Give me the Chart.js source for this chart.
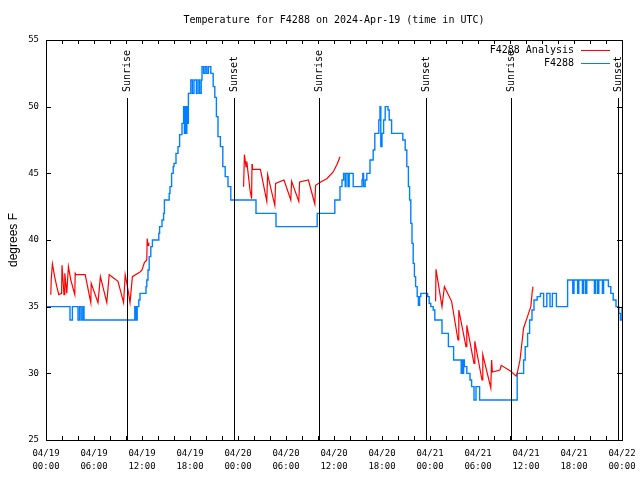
<!DOCTYPE html>
<html>
<head>
<meta charset="utf-8">
<script src="https://cdn.jsdelivr.net/npm/chart.js@4"></script>
<style>html,body{margin:0;padding:0;background:#fff;}canvas{display:block;}</style>
</head>
<body>
<canvas id="c" width="640" height="480"></canvas>
<script>
// ---- data ----
const titleText = 'Temperature for F4288 on 2024-Apr-19 (time in UTC)';
const yAxisLabel = 'degrees F';
const xTickDates = ['04/19','04/19','04/19','04/19','04/20','04/20','04/20','04/20','04/21','04/21','04/21','04/21','04/22'];
const xTickTimes = ['00:00','06:00','12:00','18:00','00:00','06:00','12:00','18:00','00:00','06:00','12:00','18:00','00:00'];
const yTicks = [25,30,35,40,45,50,55];
const sunHours = [10.1, 23.5, 34.1, 47.5, 58.1, 71.5];
const sunLabels = ['Sunrise','Sunset','Sunrise','Sunset','Sunrise','Sunset'];

// observed station series (hours since 04/19 00:00 UTC)
const obsHours = [0,3.0,3.3,4.0,4.2,4.4,4.6,4.75,11.1,11.25,11.4,11.6,11.75,12.5,12.6,12.75,12.9,13.1,13.3,14.1,14.2,14.5,14.7,14.8,15.4,15.5,15.7,15.9,16.0,16.25,16.5,16.7,17.0,17.2,17.3,17.4,17.5,17.6,17.7,17.8,18.1,18.3,18.5,18.8,19.0,19.2,19.4,19.5,19.7,19.9,20.1,20.3,20.6,20.9,21.1,21.3,21.5,21.8,22.1,22.4,22.75,23.1,26.25,28.75,33.9,36.1,36.75,37.0,37.2,37.4,37.5,37.75,37.9,38.4,39.5,39.6,39.7,39.9,40.1,40.5,40.9,41.1,41.6,41.75,41.85,42.0,42.2,42.4,42.75,42.9,43.2,44.6,44.9,45.1,45.3,45.45,45.6,45.75,45.9,46.05,46.2,46.4,46.55,46.7,46.85,47.7,47.9,48.1,48.4,48.6,49.5,50.3,50.95,51.9,52.0,52.1,52.2,52.3,52.6,53.0,53.2,53.5,53.75,54.2,58.9,59.7,59.9,60.2,60.45,60.75,61.0,61.4,61.8,62.2,62.6,63.0,63.3,63.8,65.2,65.85,66.0,66.45,66.6,67.05,67.2,67.45,67.6,68.55,68.7,68.95,69.1,69.55,69.7,70.3,70.6,70.9,71.25,71.6,71.8,72];
const obsTemps = [35,34,35,34,35,34,35,34,35,34,35,35.5,36,36.5,37,37.75,38.75,39.5,40,40.5,41,41.5,42,43,43.5,44,45,45.5,45.75,46.5,47,47.9,48.75,50,48,50,48,50,48.75,51,52,51,52,51,52,51,52,53,52.5,53,52.5,53,52.5,51.5,50.7,49.25,47.75,47,45.5,44.75,44,43,42,41,42,43,44,44.5,45,44,45,44,45,44,44.5,45,44,44.5,45,46,46.75,48,49,50,47,48,49,50,49.75,49,48,47.5,46.75,45.5,44,43,41.25,39.75,38.25,37.25,36.5,35.75,35.1,35.75,36,35.75,35.25,35,34.75,34,33,32,31,30,31,30,31,30.5,30,29.5,29,28,29,28,30,31,32,33,34,34.75,35.5,35.75,36,35,36,35,36,35,37,36,37,36,37,36,37,36,37,36,37,36,37,36,37,36.5,36,35.5,35,34.5,34,35];

// analysis series (null = gap)
const anaHours = [0.6,0.65,0.8,1.1,1.35,1.6,1.95,2.0,2.25,2.35,2.6,2.8,3.1,3.6,3.65,3.75,4.9,5.6,5.65,6.5,6.8,7.6,7.9,9.0,9.7,9.9,10.3,10.5,10.8,11.75,12.0,12.3,12.6,12.65,12.75,12.85,
  18,
  24.7,24.8,25.0,25.1,25.5,25.7,25.75,25.8,26.8,27.6,27.7,28.6,28.7,29.75,30.6,30.7,31.6,31.7,32.8,33.6,33.7,34.5,35.1,35.9,36.4,36.75,
  42,
  48.7,48.75,49.5,49.8,50.7,51.5,51.6,52.5,52.6,53.5,53.6,54.5,54.6,55.6,55.7,55.8,56.75,56.9,58.0,58.75,58.9,59.25,59.7,60.1,60.6,60.8,60.85];
const anaTemps = [35.9,37.0,38.2,37.2,36.5,35.9,36.0,38.1,35.9,37.5,36.0,38.0,37.0,35.9,37.5,37.4,37.4,35.3,36.75,35.3,37.25,35.3,37.4,36.9,35.3,37.4,36.1,35.3,37.25,37.6,37.75,38.3,38.5,40.1,39.6,39.8,
  null,
  44,46.4,45.5,45.9,43.75,43.1,45.7,45.3,45.3,42.9,44.9,42.6,44.25,44.5,43,44.4,42.9,44.35,44.5,42.7,44.1,44.4,44.6,45.1,45.7,46.25,
  null,
  35.4,37.8,35.0,36.5,35.4,32.5,34.75,32,33.6,30.75,32.4,29.5,31.4,28.9,31,30.1,30.25,30.6,30.2,29.8,30,31,33.4,34.1,35,36.25,36.5];

const seriesNames = ['F4288 Analysis','F4288'];
const seriesColors = ['#ff0000','#0080ff'];

// ---- build ----
const obsData = obsHours.map((h,i)=>({x:h,y:obsTemps[i]}));
const anaData = anaHours.map((h,i)=>({x:h,y:anaTemps[i]}));
const FONT = 'DejaVu Sans Mono';

const decor = {
  id:'decor',
  beforeDraw(chart){
    const c = chart.ctx;
    c.save(); c.fillStyle='#fff'; c.fillRect(0,0,chart.width,chart.height); c.restore();
  },
  afterDatasetsDraw(chart){
    const c = chart.ctx, xs = chart.scales.x, ys = chart.scales.y, a = chart.chartArea;
    c.save();
    // title centred over plot area
    c.fillStyle='#000';
    c.font = '10px "'+FONT+'"';
    c.textAlign='center'; c.textBaseline='middle';
    c.fillText(titleText, (a.left+a.right)/2, 20);
    c.strokeStyle='#000'; c.lineWidth=1;
    // box
    c.strokeRect(Math.round(a.left)+0.5, Math.round(a.top)+0.5, Math.round(a.right-a.left), Math.round(a.bottom-a.top));
    // x ticks every 2 h, inward top & bottom
    c.beginPath();
    for(let h=0; h<=72; h+=2){
      const px = Math.round(xs.getPixelForValue(h))+0.5;
      c.moveTo(px, a.bottom); c.lineTo(px, a.bottom-4);
      c.moveTo(px, a.top); c.lineTo(px, a.top+4);
    }
    yTicks.forEach(v=>{
      const py = Math.round(ys.getPixelForValue(v))+0.5;
      c.moveTo(a.left, py); c.lineTo(a.left+5, py);
      c.moveTo(a.right, py); c.lineTo(a.right-5, py);
    });
    c.stroke();
    // sunrise / sunset lines
    sunHours.forEach((h,i)=>{
      const px = Math.round(xs.getPixelForValue(h))+0.5;
      c.beginPath(); c.moveTo(px, 98); c.lineTo(px, a.bottom); c.stroke();
      c.save();
      c.translate(px, 92); c.rotate(-Math.PI/2);
      c.textAlign='left'; c.textBaseline='middle';
      c.fillText(sunLabels[i], 0, 0);
      c.restore();
    });
    // legend
    c.textAlign='right'; c.textBaseline='middle';
    seriesNames.forEach((n,i)=>{
      const y = 50 + i*13;
      c.fillStyle='#000';
      c.fillText(n, 574, y);
      c.strokeStyle=seriesColors[i];
      c.beginPath(); c.moveTo(581, y+0.5); c.lineTo(610, y+0.5); c.stroke();
    });
    c.restore();
  }
};

new Chart(document.getElementById('c'), {
  type:'line',
  data:{datasets:[
    {label:seriesNames[0], data:anaData, borderColor:seriesColors[0], borderWidth:1.2, pointRadius:0, tension:0, spanGaps:false},
    {label:seriesNames[1], data:obsData, borderColor:seriesColors[1], borderWidth:1.4, pointRadius:0, tension:0, stepped:'before'}
  ]},
  options:{
    responsive:false, animation:false, devicePixelRatio:1,
    layout:{padding:{left:0,right:18,top:40,bottom:0}},
    plugins:{ legend:{display:false}, tooltip:{enabled:false}, title:{display:false} },
    scales:{
      x:{type:'linear', min:0, max:72,
        grid:{display:false, drawTicks:false}, border:{display:false},
        afterBuildTicks(s){ s.ticks = xTickDates.map((d,i)=>({value:i*6})); },
        ticks:{autoSkip:false, maxRotation:0, minRotation:0, padding:7, color:'#000',
          font:{family:FONT,size:9,lineHeight:13/9},
          callback:(v)=>{const i=Math.round(v/6); return [xTickDates[i], xTickTimes[i]];}},
        afterFit(s){ s.height = 40; s.paddingLeft = 0; s.paddingRight = 0; }
      },
      y:{min:25, max:55,
        grid:{display:false, drawTicks:false}, border:{display:false},
        afterBuildTicks(s){ s.ticks = yTicks.map(v=>({value:v})); },
        ticks:{padding:7, color:'#000', font:{family:FONT,size:9}},
        title:{display:true, text:yAxisLabel, color:'#000', font:{family:'Liberation Sans',size:12}, padding:{top:6,bottom:0}},
        afterFit(s){ s.width = 46; s.paddingTop = 0; s.paddingBottom = 0; }
      }
    }
  },
  plugins:[decor]
});
</script>
</body>
</html>
